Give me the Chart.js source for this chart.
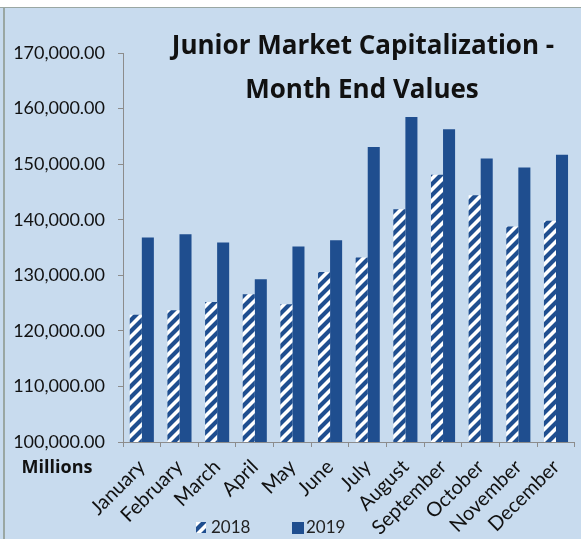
<!DOCTYPE html>
<html>
<head>
<meta charset="utf-8">
<script src="https://cdn.jsdelivr.net/npm/chart.js@4"></script>
<style>
  html, body { margin: 0; padding: 0; background: #c8dbee; }
  canvas { display: block; }
</style>
</head>
<body>
<canvas id="myChart" width="581" height="539"></canvas>
<script>
const months = ["January", "February", "March", "April", "May", "June",
  "July", "August", "September", "October", "November", "December"];
const values2018 = [122900, 123700, 125200, 126600, 124800, 130600,
  133200, 141900, 148100, 144400, 138800, 139800];
const values2019 = [136800, 137400, 135900, 129300, 135200, 136300,
  153100, 158500, 156300, 151000, 149400, 151700];
const yTicks = [100000, 110000, 120000, 130000, 140000, 150000, 160000, 170000];
const titleLines = ["Junior Market Capitalization -", "Month End Values"];
const unitLabel = "Millions";
const seriesNames = ["2018", "2019"];

const DARK_BLUE = "#1f4e8f";
const BG = "#c8dbee";
const FONT = "Lato, 'Open Sans', sans-serif";

function makeStripes() {
  const size = 11;
  const c = document.createElement("canvas");
  c.width = size;
  c.height = size;
  const g = c.getContext("2d");
  g.fillStyle = "#ffffff";
  g.fillRect(0, 0, size, size);
  g.strokeStyle = DARK_BLUE;
  g.lineWidth = 4.2;
  g.beginPath();
  g.moveTo(-size, size * 2);
  g.lineTo(size * 2, -size);
  g.moveTo(-size, size);
  g.lineTo(size, -size);
  g.moveTo(0, size * 2);
  g.lineTo(size * 2, 0);
  g.stroke();
  return g.createPattern(c, "repeat");
}

// page background, title, unit label and legend are painted around the plot
const decorations = {
  id: "decorations",
  beforeDraw(chart) {
    const ctx = chart.ctx;
    ctx.save();
    ctx.fillStyle = BG;
    ctx.fillRect(0, 0, chart.width, chart.height);
    ctx.fillStyle = "#ffffff";
    ctx.fillRect(0, 0, chart.width, 7);
    ctx.fillStyle = "#9aa7a3";
    ctx.fillRect(0, 7, chart.width, 1);
    ctx.fillRect(3, 7, 2, chart.height - 7);
    ctx.restore();
  },
  afterDraw(chart) {
    const ctx = chart.ctx;
    ctx.save();
    ctx.fillStyle = "#111111";
    ctx.textAlign = "center";
    ctx.textBaseline = "middle";
    ctx.font = "bold 26px 'Open Sans', sans-serif";
    ctx.fillText(titleLines[0], 363, 47);
    ctx.fillText(titleLines[1], 362, 91);

    ctx.font = "bold 18px 'Open Sans', sans-serif";
    ctx.fillText(unitLabel, 57, 468);

    // legend
    ctx.font = "17px " + FONT;
    ctx.textAlign = "left";
    ctx.fillStyle = stripes;
    ctx.fillRect(196, 522, 10, 11);
    ctx.fillStyle = "#222222";
    ctx.fillText(seriesNames[0], 211, 528);
    ctx.fillStyle = DARK_BLUE;
    ctx.fillRect(292, 522, 12, 12);
    ctx.fillStyle = "#222222";
    ctx.fillText(seriesNames[1], 306, 528);
    ctx.restore();
  }
};

const stripes = makeStripes();

function renderChart(ctx) {
  new Chart(ctx, {
    type: "bar",
    data: {
      labels: months,
      datasets: [
        {
          label: seriesNames[0],
          data: values2018,
          backgroundColor: stripes,
          borderWidth: 0,
        },
        {
          label: seriesNames[1],
          data: values2019,
          backgroundColor: DARK_BLUE,
          borderWidth: 0,
        },
      ],
    },
    options: {
      responsive: false,
      animation: false,
      devicePixelRatio: 1,
      layout: { padding: { top: 53, right: 1, left: 0, bottom: 0 } },
      datasets: {
        bar: { categoryPercentage: 0.64, barPercentage: 1 },
      },
      plugins: {
        legend: { display: false },
        title: { display: false },
        tooltip: { enabled: false },
      },
      scales: {
        x: {
          grid: {
            drawOnChartArea: false,
            tickLength: 5,
            color: "#8c8c8c",
          },
          border: { color: "#8c8c8c" },
          ticks: {
            autoSkip: false,
            maxRotation: 45,
            minRotation: 45,
            padding: 8,
            color: "#111111",
            font: { family: FONT, size: 20 },
          },
          afterFit(scale) {
            scale.height = 97;
          },
        },
        y: {
          min: yTicks[0],
          max: yTicks[yTicks.length - 1],
          afterBuildTicks(scale) {
            scale.ticks = yTicks.map((v) => ({ value: v }));
          },
          grid: {
            drawOnChartArea: false,
            tickLength: 5,
            color: "#8c8c8c",
          },
          border: { color: "#8c8c8c" },
          ticks: {
            padding: 13,
            color: "#111111",
            font: { family: FONT, size: 18 },
            callback: (v) =>
              Number(v).toLocaleString("en-US", {
                minimumFractionDigits: 2,
                maximumFractionDigits: 2,
              }),
          },
          afterFit(scale) {
            scale.width = 123;
          },
        },
      },
    },
    plugins: [decorations],
  });
}

function setup() {
  const ctx = document.getElementById("myChart").getContext("2d");
  renderChart(ctx);
}

window.addEventListener("load", setup);
</script>
</body>
</html>
